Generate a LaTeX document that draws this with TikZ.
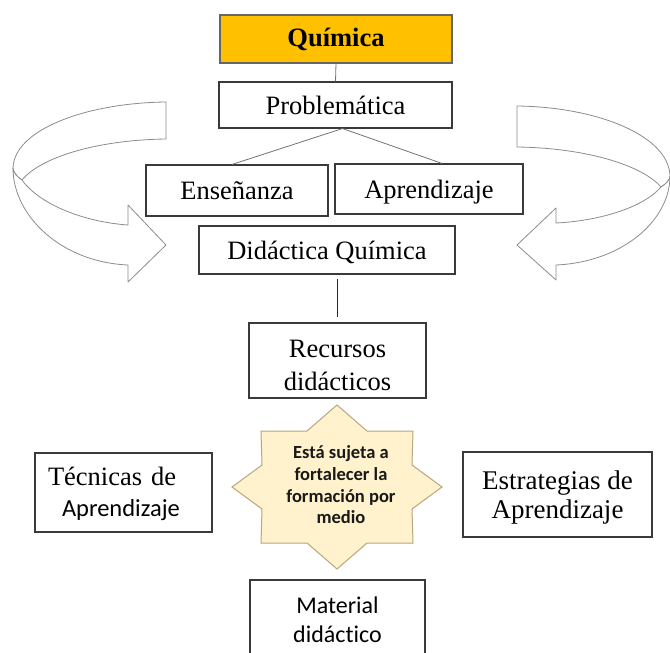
\documentclass[tikz,border=0pt]{standalone}
\usepackage{fontspec}
\setmainfont{Liberation Serif}
\newfontfamily\serifF{Liberation Serif}
\newfontfamily\sansF[Ligatures=NoCommon]{Carlito}
\usetikzlibrary{calc}
\definecolor{quimfill}{HTML}{FFC000}
\definecolor{starfill}{HTML}{FFF2CC}
\definecolor{starline}{HTML}{B8A67E}
\definecolor{boxline}{HTML}{3A3A3A}
\definecolor{ribline}{HTML}{8C8C8C}
\begin{document}
\begin{tikzpicture}[x=1pt,y=-1pt,
  boxnode/.style={draw=boxline, line width=1.1pt, inner sep=0pt, align=center, fill=white},
  serif26/.style={font=\serifF\fontsize{26.5}{32}\selectfont, text height=22pt, text depth=4pt},
  txt/.style={inner sep=0pt, align=center},
  conn/.style={draw=black!55, line width=0.8pt},
  ribbon/.style={draw=ribline, line width=0.8pt, fill=white, line join=round},
  starshape/.style={draw=starline, line width=1pt, fill=starfill, line join=miter}]
\useasboundingbox (0,0) rectangle (670,653);
\clip (0,0) rectangle (670,653);

% left curved arrow
\draw[ribbon] (166,102) .. controls (85,103) and (14,130) .. (13,168)
  .. controls (13,172) and (17,177) .. (22,180)
  .. controls (40,158) and (95,140) .. (166,139) -- cycle;
\draw[ribbon] (13,168) .. controls (13,215) and (60,262) .. (128,265)
  -- (128,282) -- (166,245) -- (128,205) -- (128,225)
  .. controls (85,222) and (40,205) .. (22,180)
  .. controls (17,177) and (13,172) .. (13,168) -- cycle;

% right curved arrow (mirrored)
\begin{scope}[xshift=683pt, xscale=-1]
\draw[ribbon] (166,106) .. controls (85,107) and (14,136) .. (13,176)
  .. controls (13,180) and (17,184) .. (22,187)
  .. controls (40,166) and (95,148) .. (166,147) -- cycle;
\draw[ribbon] (13,176) .. controls (13,220) and (60,262) .. (127,265)
  -- (127,280) -- (166,245) -- (127,208) -- (127,223)
  .. controls (85,221) and (40,208) .. (22,187)
  .. controls (17,184) and (13,180) .. (13,176) -- cycle;
\end{scope}

% boxes
\node[boxnode, fill=quimfill, draw=black!60, minimum width=232pt, minimum height=48pt,
  font=\serifF\bfseries\fontsize{26.5}{32}\selectfont, text height=20pt, text depth=6pt] (quim) at (336,39) {Química};
\node[boxnode, serif26, minimum width=233pt, minimum height=46pt] (prob) at (335.5,105) {Problemática};
\node[boxnode, serif26, minimum width=182pt, minimum height=51pt] (ens) at (237,190.5) {Enseñanza};
\node[boxnode, serif26, minimum width=188pt, minimum height=50pt] (apr) at (429,189) {Aprendizaje};
\node[boxnode, serif26, minimum width=256pt, minimum height=48pt] (did) at (327,250) {Didáctica Química};

\node[boxnode, minimum width=177pt, minimum height=75pt] (rec) at (337.5,360.5) {};
\node[txt, font=\serifF\fontsize{26.5}{33}\selectfont] (rectxt) at ([yshift=-5pt]rec.center) {Recursos\\didácticos};

\node[boxnode, minimum width=177pt, minimum height=79pt] (tec) at (123.5,492.5) {};
\node[txt, font=\serifF\fontsize{26.5}{32}\selectfont, text width=151pt, align=left] (tectxt) at ([yshift=-1pt]tec.center)
  {Técnicas de\\[-1pt]\hspace*{14pt}{\sansF\fontsize{24.5}{30}\selectfont Aprendizaje}};

\node[boxnode, minimum width=189pt, minimum height=85pt] (est) at (557.5,494.5) {};
\node[txt, font=\serifF\fontsize{27}{29}\selectfont] (esttxt) at ([yshift=-3pt]est.center) {Estrategias de\\Aprendizaje};

\node[boxnode, minimum width=175pt, minimum height=80pt] (mat) at (337.5,620) {};
\node[txt, font=\sansF\fontsize{24}{29}\selectfont] (mattxt) at (mat.center) {Material\\didáctico};

% connectors
\draw[conn] (quim.south) -- (prob.north);
\draw[conn] ([xshift=7pt]prob.south) -- ([xshift=-5pt]ens.north);
\draw[conn] ([xshift=7pt]prob.south) -- ([xshift=13pt]apr.north);
\draw[draw=black!85, line width=1pt] ([yshift=43pt]rec.north) -- ([yshift=5pt]rec.north);

% star
\coordinate (sc) at (337,487);
\begin{scope}[shift={(sc)}]
\draw[starshape] (0,-82) -- (30,-56) -- (76,-56) -- (75,-22) -- (105,0) -- (75,22)
  -- (76,56) -- (30,56) -- (0,82) -- (-30,56) -- (-76,56) -- (-75,22) -- (-105,0)
  -- (-75,-22) -- (-76,-56) -- (-30,-56) -- cycle;
\end{scope}
\node[txt, font=\sansF\bfseries\fontsize{18.5}{21.7}\selectfont, text=black!90] (star) at (341,485)
  {Está sujeta a\\fortalecer la\\formación por\\medio};
\end{tikzpicture}
\end{document}
